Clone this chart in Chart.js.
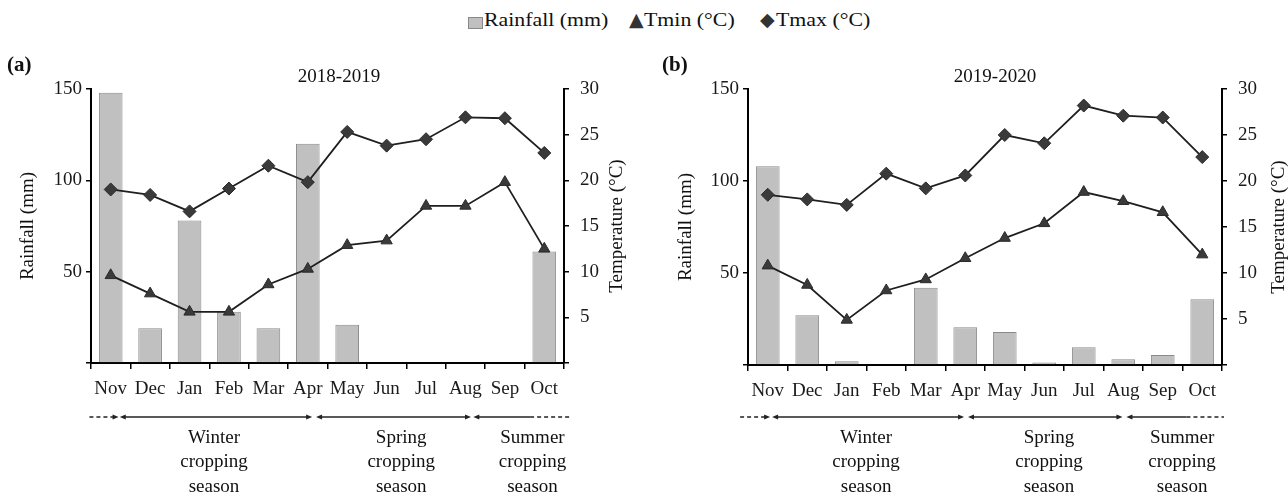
<!DOCTYPE html>
<html>
<head>
<meta charset="utf-8">
<script src="https://cdn.jsdelivr.net/npm/chart.js@4.4.1/dist/chart.umd.min.js"></script>
<style>
  body { margin: 0; background: #fff; width: 1288px; height: 497px; position: relative; overflow: hidden; font-family: 'Liberation Serif', 'Times New Roman', serif; }
  .panel { position: absolute; top: 0; height: 497px; }
  .lg { position: absolute; top: 9px; font-size: 19px; line-height: 22px; color: #111; white-space: nowrap; }
  .lg.txt { transform: scaleX(1.15); transform-origin: left center; }
  .sw { position: absolute; top: 17px; width: 13px; height: 10px; background: #c0c0c0; border: 1px solid #888; }
  .lg.mk { font-family: 'DejaVu Sans', sans-serif; font-size: 19px; color: #333; top: 8px; }
</style>
</head>
<body>
<div class="sw" style="left:468px"></div>
<div class="lg txt" style="left:484px">Rainfall (mm)</div>
<div class="lg mk" style="left:629px">&#9650;</div>
<div class="lg txt" style="left:644px">Tmin (°C)</div>
<div class="lg mk" style="left:760px">&#9670;</div>
<div class="lg txt" style="left:776px">Tmax (°C)</div>
<div class="panel" style="left:0;width:640px"><canvas id="chartA"></canvas></div>
<div class="panel" style="left:640px;width:648px"><canvas id="chartB"></canvas></div>
<script>
// months run Nov -> Oct
const months = ["Nov", "Dec", "Jan", "Feb", "Mar", "Apr", "May", "Jun", "Jul", "Aug", "Sep", "Oct"];

// (a) 2018-2019
const rainfallA = [148, 19, 78, 28, 19, 120, 21, 0, 0, 0, 0, 61];
const tminA = [9.6, 7.6, 5.6, 5.6, 8.6, 10.3, 12.9, 13.4, 17.2, 17.2, 19.8, 12.5];
const tmaxA = [19.0, 18.4, 16.6, 19.1, 21.6, 19.8, 25.3, 23.8, 24.5, 26.9, 26.8, 23.0];

// (b) 2019-2020
const rainfallB = [108, 27, 2, 0, 42, 20.5, 18, 1.3, 9.6, 3.1, 5.4, 35.7];
const tminB = [10.8, 8.7, 4.9, 8.1, 9.3, 11.6, 13.8, 15.4, 18.8, 17.8, 16.6, 12.0];
const tmaxB = [18.5, 18.0, 17.4, 20.8, 19.2, 20.6, 25.0, 24.1, 28.2, 27.1, 26.9, 22.6];

const seasonNames = [["Winter", "cropping", "season"], ["Spring", "cropping", "season"], ["Summer", "cropping", "season"]];

const FONT = "'Liberation Serif', 'Times New Roman', serif";
Chart.defaults.font.family = FONT;
Chart.defaults.font.size = 19;
Chart.defaults.color = "#1a1a1a";

function arrowHead(ctx, x, y, dir) {
    ctx.beginPath();
    ctx.moveTo(x, y);
    ctx.lineTo(x - dir * 6, y - 2.5);
    ctx.lineTo(x - dir * 6, y + 2.5);
    ctx.closePath();
    ctx.fill();
}

function line(ctx, x1, x2, y, dashed) {
    ctx.setLineDash(dashed ? [4, 3] : []);
    ctx.beginPath();
    ctx.moveTo(x1, y);
    ctx.lineTo(x2, y);
    ctx.stroke();
    ctx.setLineDash([]);
}

// panel tag, title, rotated axis titles and season arrows
const extras = {
    id: "extras",
    afterDraw(chart, args, o) {
        const { ctx, chartArea: a } = chart;
        const step = (a.right - a.left) / months.length;
        const px = v => a.left + v * step;
        ctx.save();
        ctx.fillStyle = "#111";
        ctx.textBaseline = "middle";

        ctx.font = "bold 21px " + FONT;
        ctx.textAlign = "left";
        ctx.fillText(o.tag, o.tagX, 66);

        ctx.font = "19px " + FONT;
        ctx.textAlign = "center";
        ctx.fillText(o.title, o.titleX, 77);

        const midY = (a.top + a.bottom) / 2;
        [["Rainfall (mm)", o.leftTitleX], ["Temperature (°C)", o.rightTitleX]].forEach(([t, x]) => {
            ctx.save();
            ctx.translate(x, midY);
            ctx.rotate(-Math.PI / 2);
            ctx.fillText(t, 0, 0);
            ctx.restore();
        });

        // season arrows
        const y = 417, s = o.spans;
        ctx.strokeStyle = "#222";
        ctx.fillStyle = "#222";
        ctx.lineWidth = 1.5;
        line(ctx, px(s[0][0]), px(s[0][1]) - 4, y, true);
        arrowHead(ctx, px(s[0][1]), y, 1);
        for (let i = 1; i <= 3; i++) {
            const [x1, x2] = s[i];
            line(ctx, px(x1) + 3, i === 3 ? px(x2) : px(x2) - 3, y, false);
            arrowHead(ctx, px(x1), y, -1);
            if (i < 3) arrowHead(ctx, px(x2), y, 1);
        }
        line(ctx, px(s[3][1]), px(s[4]), y, true);

        ctx.fillStyle = "#111";
        seasonNames.forEach((lines, i) => {
            lines.forEach((t, j) => ctx.fillText(t, px(o.labelAt[i]), 438 + j * 24.5));
        });
        ctx.restore();
    }
};

function makeChart(id, rainfall, tmin, tmax, box, o) {
    const hide0 = v => (v === 0 ? "" : v);
    return new Chart(document.getElementById(id), {
        type: "bar",
        data: {
            labels: months,
            datasets: [
                {
                    type: "line", label: "Tmin (°C)", data: tmin, yAxisID: "y1", order: 1,
                    borderColor: "#1f1f1f", borderWidth: 1.8,
                    pointStyle: "triangle", pointRadius: 6.5,
                    pointBackgroundColor: "#3a3a3a", pointBorderColor: "#2a2a2a", pointBorderWidth: 1
                },
                {
                    type: "line", label: "Tmax (°C)", data: tmax, yAxisID: "y1", order: 1,
                    borderColor: "#1f1f1f", borderWidth: 1.8,
                    pointStyle: "rectRot", pointRadius: 6.5,
                    pointBackgroundColor: "#3a3a3a", pointBorderColor: "#2a2a2a", pointBorderWidth: 1
                },
                {
                    label: "Rainfall (mm)", data: rainfall, yAxisID: "y", order: 2,
                    backgroundColor: "#c0c0c0", borderColor: "#8a8a8a", borderWidth: 1,
                    barPercentage: 0.6, categoryPercentage: 1
                }
            ]
        },
        options: {
            responsive: true,
            maintainAspectRatio: false,
            animation: false,
            layout: { padding: { top: 89, left: 0, right: 0, bottom: 0 } },
            plugins: {
                legend: { display: false },
                tooltip: { enabled: false },
                extras: o
            },
            scales: {
                x: {
                    afterFit: s => { s.height = box.bottom; },
                    border: { color: "#000", width: 2 },
                    grid: { drawOnChartArea: false, color: "#000", lineWidth: 1.5, tickLength: 6 },
                    ticks: { maxRotation: 0, autoSkip: false, padding: 9 }
                },
                y: {
                    position: "left", min: 0, max: 150,
                    afterFit: s => { s.width = box.left; },
                    border: { color: "#000", width: 2 },
                    grid: { drawOnChartArea: false, color: "#000", lineWidth: 1.5, tickLength: 5 },
                    ticks: { stepSize: 50, padding: 4, callback: hide0 }
                },
                y1: {
                    position: "right", min: 0, max: 30,
                    afterFit: s => { s.width = box.right; },
                    border: { color: "#000", width: 2 },
                    grid: { drawOnChartArea: false, color: "#000", lineWidth: 1.5, tickLength: 5 },
                    ticks: { stepSize: 5, padding: 11, callback: hide0 }
                }
            }
        },
        plugins: [extras]
    });
}

makeChart("chartA", rainfallA, tminA, tmaxA, { left: 91, right: 76, bottom: 134 }, {
    tag: "(a)", tagX: 7, title: "2018-2019", titleX: 339,
    leftTitleX: 28, rightTitleX: 617,
    spans: [[-0.04, 0.7], [0.73, 5.61], [5.71, 9.64], [9.7, 11.14], 12.18],
    labelAt: [3.12, 7.87, 11.2]
});

makeChart("chartB", rainfallB, tminB, tmaxB, { left: 108, right: 66, bottom: 132 }, {
    tag: "(b)", tagX: 22, title: "2019-2020", titleX: 355,
    leftTitleX: 46, rightTitleX: 639,
    spans: [[-0.2, 0.56], [0.61, 5.47], [5.57, 9.48], [9.58, 11.1], 12.05],
    labelAt: [2.99, 7.62, 10.99]
});
</script>
</body>
</html>
